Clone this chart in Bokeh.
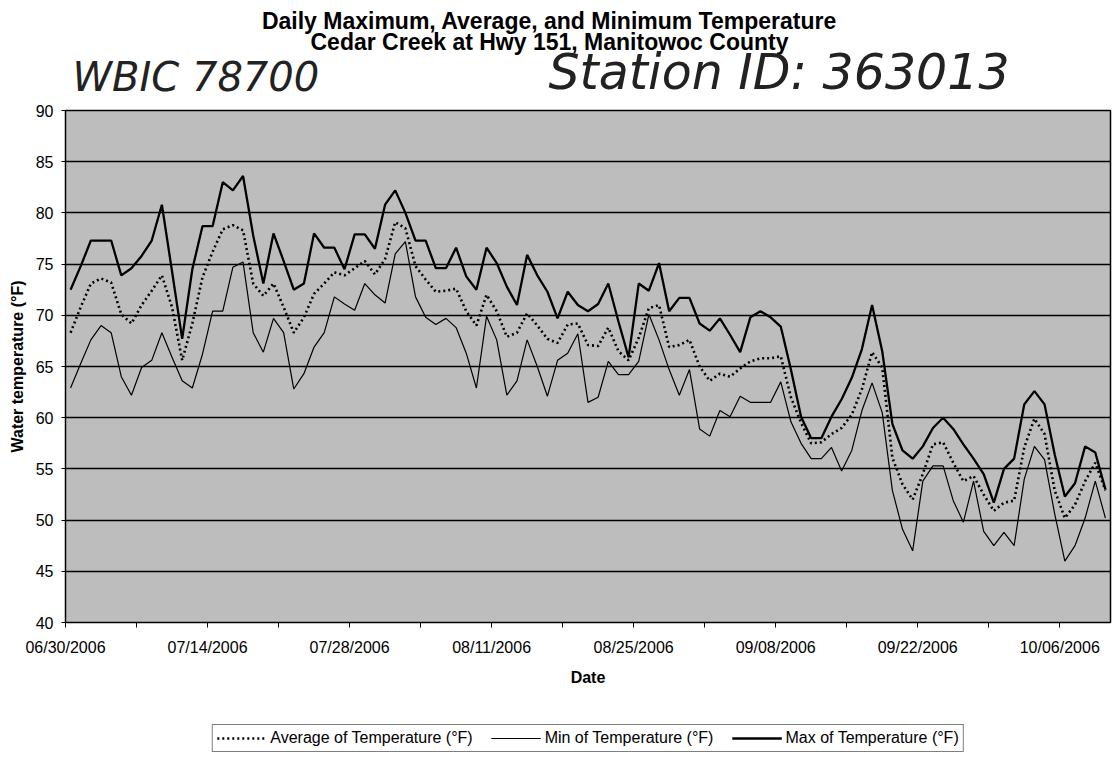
import pandas as pd
from bokeh.plotting import figure
from bokeh.layouts import column
from bokeh.models import (Range1d, FixedTicker, DatetimeTickFormatter, Legend,
                          LegendItem, Label)
from bokeh.embed import file_html
from bokeh.resources import INLINE

# ---------------- data ----------------
first_day = "2006-06-30"
last_day = "2006-10-10"
tick_labels = ["06/30/2006", "07/14/2006", "07/28/2006", "08/11/2006",
               "08/25/2006", "09/08/2006", "09/22/2006", "10/06/2006"]
y_tick_values = [40, 45, 50, 55, 60, 65, 70, 75, 80, 85, 90]

title_lines = ["Daily Maximum, Average, and Minimum Temperature",
               "Cedar Creek at Hwy 151, Manitowoc County"]
handwritten_notes = ["WBIC 78700", "Station ID: 363013"]
series_names = ["Average of Temperature (°F)", "Min of Temperature (°F)",
                "Max of Temperature (°F)"]

max_temp = [72.5, 74.8, 77.3, 77.3, 77.3, 73.9, 74.6, 75.8, 77.3, 80.8,
            74.3, 67.7, 74.5, 78.7, 78.7, 83.0, 82.2, 83.6, 77.8, 73.1,
            78.0, 75.3, 72.5, 73.1, 78.0, 76.6, 76.6, 74.5, 77.9, 77.9,
            76.5, 80.8, 82.2, 80.0, 77.3, 77.3, 74.6, 74.6, 76.6, 73.8,
            72.5, 76.6, 75.1, 72.8, 71.0, 75.9, 73.9, 72.3, 69.7, 72.3,
            71.0, 70.4, 71.1, 73.1, 69.4, 65.9, 73.1, 72.4, 75.1, 70.4,
            71.7, 71.7, 69.2, 68.5, 69.7, 68.1, 66.4, 69.8, 70.4, 69.8,
            68.9, 64.7, 60.1, 58.0, 58.0, 60.1, 61.8, 63.9, 66.7, 71.0,
            66.5, 59.4, 56.8, 56.0, 57.2, 59.0, 60.0, 58.9, 57.4, 56.0,
            54.5, 51.7, 55.0, 56.0, 61.3, 62.6, 61.3, 56.4, 52.3, 53.6,
            57.2, 56.6, 53.0]

min_temp = [62.9, 65.3, 67.6, 69.0, 68.3, 64.0, 62.2, 64.9, 65.6, 68.3,
            65.9, 63.6, 62.9, 66.2, 70.4, 70.4, 74.7, 75.2, 68.3, 66.4,
            69.7, 68.3, 62.8, 64.3, 66.9, 68.3, 71.8, 71.1, 70.5, 73.1,
            72.0, 71.2, 76.0, 77.2, 71.8, 69.8, 69.1, 69.7, 68.8, 66.3,
            62.9, 69.9, 67.6, 62.2, 63.6, 67.6, 65.0, 62.1, 65.6, 66.3,
            68.2, 61.5, 62.0, 65.5, 64.2, 64.2, 65.5, 70.1, 67.6, 64.7,
            62.2, 64.7, 58.9, 58.2, 60.7, 60.1, 62.1, 61.5, 61.5, 61.5,
            63.5, 59.6, 57.5, 56.0, 56.0, 57.1, 54.8, 56.8, 60.7, 63.4,
            60.5, 52.9, 49.1, 47.0, 53.8, 55.3, 55.3, 51.9, 49.8, 53.8,
            48.9, 47.5, 48.8, 47.5, 54.0, 57.2, 55.9, 50.6, 46.0, 47.5,
            50.2, 53.8, 50.2]

avg_temp = [68.3, 70.8, 73.1, 73.6, 73.2, 70.1, 69.2, 71.0, 72.4, 73.9,
            70.8, 65.6, 69.2, 73.7, 76.2, 78.4, 78.8, 78.3, 73.1, 71.9,
            73.1, 70.8, 68.3, 69.8, 72.1, 73.1, 74.2, 73.9, 74.6, 75.3,
            74.0, 75.5, 79.1, 78.5, 74.8, 73.5, 72.3, 72.4, 72.6, 70.4,
            69.0, 72.0, 70.4, 67.9, 68.3, 70.2, 69.0, 67.7, 67.3, 69.1,
            69.2, 67.1, 67.0, 68.8, 66.5, 65.6, 67.8, 70.7, 71.0, 66.9,
            67.1, 67.6, 65.0, 63.6, 64.3, 64.0, 64.8, 65.5, 65.8, 65.8,
            66.0, 62.0, 59.5, 57.5, 57.6, 58.4, 59.0, 60.3, 62.8, 66.4,
            64.9, 56.1, 53.5, 52.0, 54.5, 57.4, 57.6, 55.6, 53.8, 54.3,
            52.5, 50.9, 51.7, 51.9, 57.1, 59.9, 58.4, 52.9, 50.2, 51.5,
            53.8, 55.6, 52.9]

# each daily value sits in the middle of its day
days = pd.date_range(first_day, last_day, freq="D")
x = days + pd.Timedelta(hours=12)


def ms(ts):
    return pd.Timestamp(ts).value / 1e6


tick_dates = [pd.to_datetime(t, format="%m/%d/%Y") for t in tick_labels]
tick_ms = [ms(t) for t in tick_dates]
minor_ms = [ms(t + pd.Timedelta(days=7)) for t in tick_dates]

FONT = "Liberation Sans"
W = 1114
LEFT, RIGHT = 65, 4           # frame borders shared by all three stacked figures
FRAME_L, FRAME_R = LEFT, W - RIGHT

AVG_STYLE = dict(line_color="black", line_width=2.6, line_dash="2 3")
MIN_STYLE = dict(line_color="black", line_width=1.2)
MAX_STYLE = dict(line_color="black", line_width=2.3)

# ---------------- heading (titles + handwritten notes) ----------------
head = figure(width=W, height=100, x_range=Range1d(FRAME_L, FRAME_R), y_range=Range1d(100, 0),
              output_backend="svg", toolbar_location=None,
              min_border_left=LEFT, min_border_right=RIGHT, min_border_top=0, min_border_bottom=0,
              x_axis_location=None, y_axis_location=None,
              outline_line_color=None, background_fill_color="white",
              border_fill_color="white")
head.grid.visible = False
head.add_layout(Label(x=549, y=20, text=title_lines[0], text_font=FONT,
                      text_font_size="23px", text_font_style="bold", text_color="black",
                      text_align="center", text_baseline="middle"))
head.add_layout(Label(x=549, y=41, text=title_lines[1], text_font=FONT,
                      text_font_size="23px", text_font_style="bold", text_color="black",
                      text_align="center", text_baseline="middle"))
head.add_layout(Label(x=72, y=99, text=handwritten_notes[0], text_font="DejaVu Sans",
                      text_font_size="40px", text_color="#222222",
                      text_font_style="italic", text_baseline="bottom"))
head.add_layout(Label(x=548, y=100, text=handwritten_notes[1], text_font="DejaVu Sans",
                      text_font_size="49px", text_color="#222222",
                      text_font_style="italic", text_baseline="bottom"))

# ---------------- main chart ----------------
p = figure(width=W, height=590, x_axis_type="datetime",
           x_range=Range1d(pd.Timestamp(first_day), pd.Timestamp(last_day) + pd.Timedelta(days=1)),
           y_range=Range1d(40, 90),
           output_backend="svg", toolbar_location=None,
           min_border_left=LEFT, min_border_right=RIGHT, min_border_top=10, min_border_bottom=68,
           background_fill_color="#bdbdbd", border_fill_color="white",
           outline_line_color="black", outline_line_width=1.5)

p.line(x, avg_temp, **AVG_STYLE)
p.line(x, min_temp, **MIN_STYLE)
p.line(x, max_temp, **MAX_STYLE)

p.xgrid.visible = False
p.ygrid.ticker = FixedTicker(ticks=y_tick_values)
p.ygrid.grid_line_color = "black"
p.ygrid.grid_line_width = 1.3

for ax in (p.xaxis, p.yaxis):
    ax.axis_label_text_font = FONT
    ax.axis_label_text_font_style = "bold"
    ax.axis_label_text_font_size = "16px"
    ax.axis_label_text_color = "black"
    ax.major_label_text_font = FONT
    ax.major_label_text_font_size = "16px"
    ax.major_label_text_color = "black"
    ax.major_tick_in = 0
    ax.major_tick_line_color = "black"
    ax.axis_line_color = "black"

p.yaxis.ticker = FixedTicker(ticks=y_tick_values)
p.yaxis.axis_label = "Water temperature (°F)"
p.yaxis.axis_label_standoff = 7
p.yaxis.major_label_standoff = 8
p.yaxis.major_tick_out = 4
p.yaxis.minor_tick_line_color = None

p.xaxis.ticker = FixedTicker(ticks=tick_ms, minor_ticks=minor_ms)
fmt = "%m/%d/%Y"
p.xaxis.formatter = DatetimeTickFormatter(milliseconds=fmt, seconds=fmt, minsec=fmt, minutes=fmt,
                                          hourmin=fmt, hours=fmt, days=fmt, months=fmt, years=fmt)
p.xaxis.axis_label = "Date"
p.xaxis.axis_label_standoff = 10
p.xaxis.major_label_standoff = 11
p.xaxis.major_tick_out = 5
p.xaxis.minor_tick_out = 5
p.xaxis.minor_tick_in = 0
p.xaxis.minor_tick_line_color = "black"

# ---------------- legend strip ----------------
# the same series are drawn here outside the visible range, only as legend keys
foot = figure(width=W, height=67, x_range=Range1d(0, 1), y_range=Range1d(0, 1),
              output_backend="svg", toolbar_location=None,
              min_border_left=LEFT, min_border_right=RIGHT, min_border_top=0, min_border_bottom=0,
              x_axis_location=None, y_axis_location=None,
              outline_line_color=None, background_fill_color="white",
              border_fill_color="white")
foot.grid.visible = False
k_avg = foot.line(x, avg_temp, **AVG_STYLE)
k_min = foot.line(x, min_temp, **MIN_STYLE)
k_max = foot.line(x, max_temp, **MAX_STYLE)
legend = Legend(items=[LegendItem(label=series_names[0], renderers=[k_avg]),
                       LegendItem(label=series_names[1], renderers=[k_min]),
                       LegendItem(label=series_names[2], renderers=[k_max])],
                orientation="horizontal", location="bottom_center",
                border_line_color="black", border_line_width=1,
                background_fill_color="white", background_fill_alpha=1.0,
                label_text_font=FONT, label_text_font_size="16px", label_text_color="black",
                glyph_width=50, glyph_height=16, label_standoff=4, spacing=18,
                padding=4, margin=5, label_height=16)
foot.add_layout(legend)

layout = column(head, p, foot, spacing=0)
open("out.html", "w").write(file_html(layout, INLINE))
